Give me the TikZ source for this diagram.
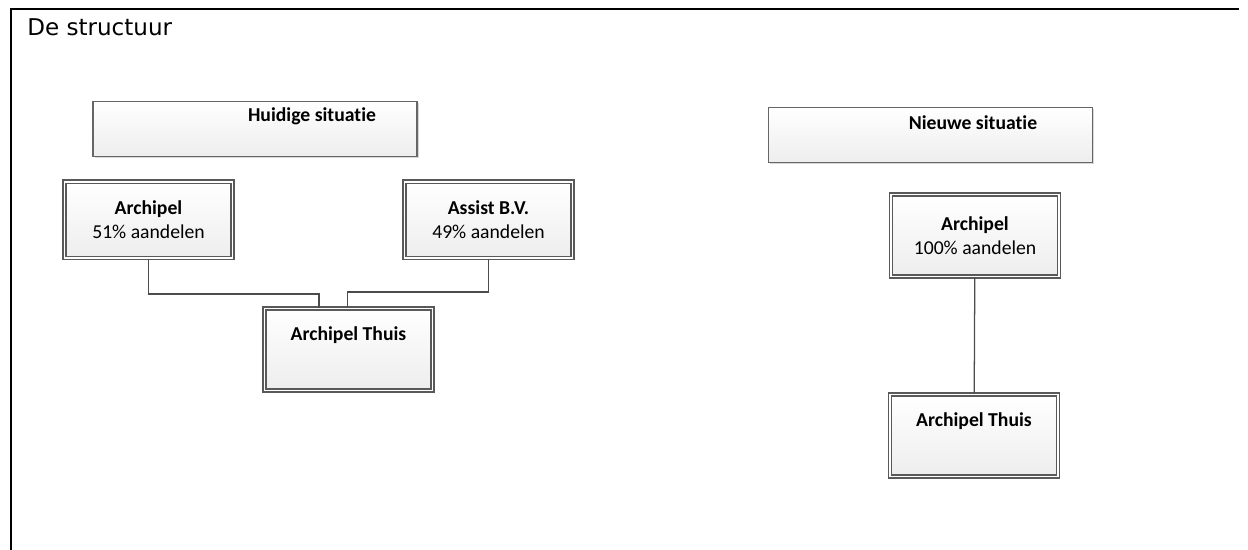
\documentclass[tikz,border=0pt]{standalone}
\usepackage{fontspec}
\setmainfont{Carlito}[Ligatures={CommonOff,ContextualOff}]
\newfontfamily\titelfont{DejaVu Sans}
\usetikzlibrary{shadows}
\begin{document}
\begin{tikzpicture}
    \tikzset{%
        kop/.style={draw=black!60, line width=0.8pt, top color=white, bottom color=black!7,
            minimum width=8.1cm, minimum height=1.38cm,
            drop shadow={shadow xshift=1.2pt, shadow yshift=-1.2pt, fill=black!30}},
        n/.style={draw=black!65, line width=0.8pt, double=white, double distance=1.4pt,
            top color=white, bottom color=black!7, align=center,
            font=\fontsize{14}{17}\selectfont, minimum width=4.2cm, minimum height=1.92cm,
            drop shadow={shadow xshift=1.5pt, shadow yshift=-1.5pt, fill=black!30}},
        txt/.style={font=\fontsize{14}{17}\selectfont\bfseries},
        e/.style={draw=black!70, line width=0.9pt}%
        }
    \useasboundingbox (0,0) rectangle (31.2,13.75);
    % kader
    \draw[line width=1.5pt] (30.975,13.525) -- (0.275,13.525) -- (0.275,-0.1);
    \node[anchor=base west, inner sep=0pt, font=\titelfont\fontsize{16.4}{19}\selectfont](titel)at(0.675,12.85){De structuur};
    % huidige situatie
    \node[kop](h1)at(6.375,10.525){};
    \node[txt](h1t)at(7.8,10.85){Huidige situatie};
    \node[n](a1)at(3.7125,8.25){\textbf{Archipel}\\51\% aandelen};
    \node[n](b1)at(12.2125,8.25){\textbf{Assist B.V.}\\49\% aandelen};
    \node[n, minimum height=2.05cm](c1)at(8.7125,5.0125){\textbf{Archipel Thuis}\\\strut};
    \draw[e](a1.south)--++(0,-0.875)-|([xshift=-0.74cm]c1.north);
    \draw[e](b1.south)--++(0,-0.825)-|([xshift=-0.03cm]c1.north);
    % nieuwe situatie
    \node[kop](h2)at(23.2625,10.375){};
    \node[txt](h2t)at(24.325,10.675){Nieuwe situatie};
    \node[n, minimum height=2.05cm](a2)at(24.375,7.8625){\textbf{Archipel}\\100\% aandelen};
    \node[n, minimum height=2.05cm](c2)at(24.35,2.8625){\textbf{Archipel Thuis}\\\strut};
    \path
    (a2)edge[e](c2);
\end{tikzpicture}
\end{document}
